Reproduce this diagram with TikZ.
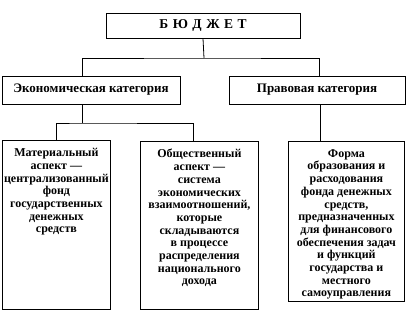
\documentclass[tikz,border=0pt]{standalone}
\usepackage{fontspec}
\setmainfont{Liberation Serif}
\begin{document}
\begin{tikzpicture}[x=1pt,y=-1pt,
  box/.style={draw,line width=0.8pt,inner sep=0pt,font=\bfseries\fontsize{12}{12.7}\selectfont},
  cat/.style={box,font=\bfseries\fontsize{13}{14}\selectfont},
  conn/.style={line width=0.8pt}]
\useasboundingbox (0,0) rectangle (416,320);
\node[box,font=\bfseries\fontsize{13.5}{14}\selectfont,minimum width=194pt,minimum height=25pt] (title) at (203,25.5) {Б\,\,Ю\,\,Д\,\,Ж\,\,Е\,\,Т};
\node[cat,minimum width=178pt,minimum height=28pt] (econ) at (91,90) {Экономическая категория};
\node[cat,minimum width=176pt,minimum height=28pt] (legal) at (317,90) {Правовая категория};
\node[box,anchor=north west] (mat) at (2,140) {\parbox[t][169pt][t]{108pt}{\centering\vspace{8pt}Материальный\\аспект —\\централизованный\\фонд\\государственных\\денежных\\средств}};
\node[box,anchor=north west] (soc) at (140,141) {\parbox[t][168pt][t]{118pt}{\centering\vspace{8pt}Общественный\\аспект —\\система\\экономических\\взаимоотношений,\\которые\\складываются\\в процессе\\распределения\\национального\\дохода}};
\node[box,anchor=north west] (form) at (288,141) {\parbox[t][160pt][t]{116pt}{\centering\vspace{8pt}Форма\\образования и\\расходования\\фонда денежных\\средств,\\предназначенных\\для финансового\\обеспечения задач\\и функций\\государства и\\местного\\самоуправления}};
\coordinate (j1) at (204,58);
\coordinate (j2) at (82,123);
\draw[conn] (title.south) -- (j1);
\draw[conn] (econ.north -| 82,0) |- (j1) -| (legal.north -| 319,0);
\draw[conn] (econ.south -| j2) -- (j2);
\draw[conn] (mat.north) |- (j2) -| (soc.north -| 193,0);
\draw[conn] (legal.south -| 320,0) -- (form.north -| 320,0);
\end{tikzpicture}
\end{document}
